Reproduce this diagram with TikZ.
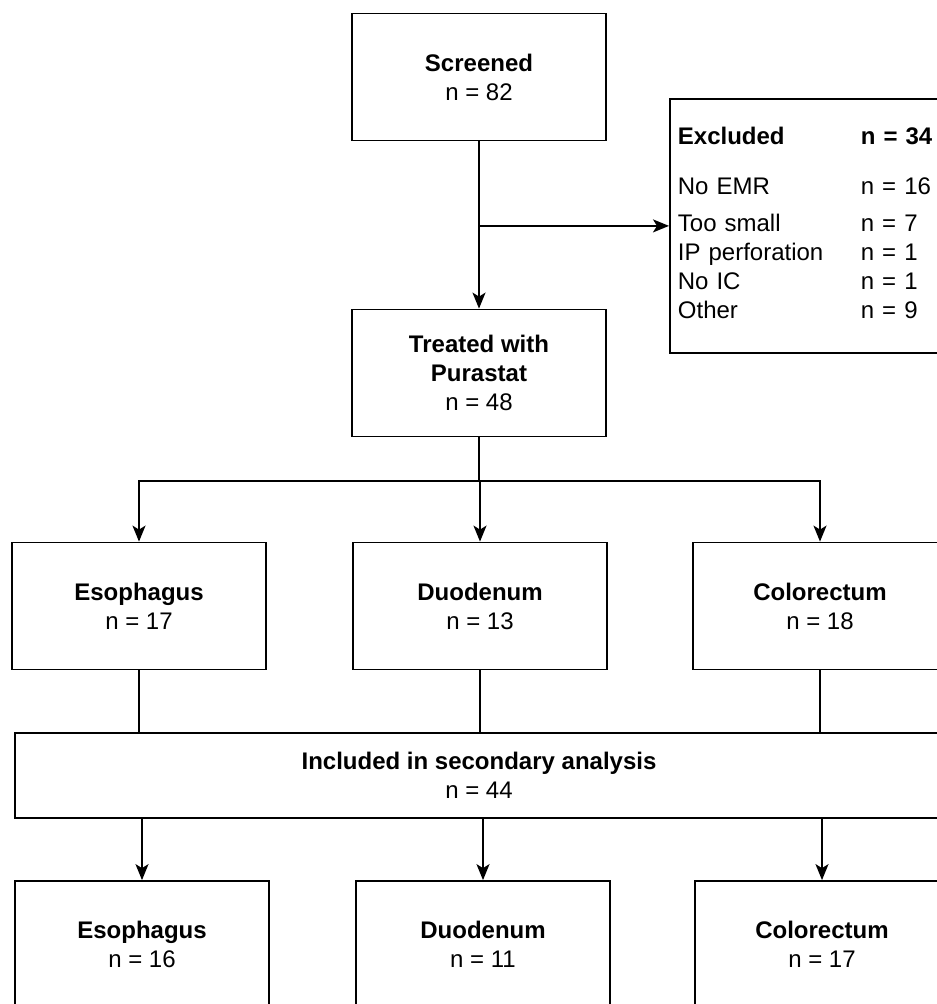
\documentclass[tikz,border=0pt]{standalone}
\usepackage{fontspec}
\setmainfont{Liberation Sans}
\usetikzlibrary{arrows.meta}

\begin{document}
\begin{tikzpicture}[x=1pt,y=-1pt,
		box/.style={draw,line width=1.8pt,minimum width=254pt,minimum height=127pt,inner sep=0pt,align=center,font=\fontsize{24}{29}\selectfont},
		line/.style={line width=1.8pt},
		arrow/.style={line width=1.8pt,-{Stealth[length=16pt,width=13pt,inset=4pt]}}
	]
	\useasboundingbox (0,0) rectangle (937,1004);

	% top part
	\node[box](screened) at (479,77) {\textbf{Screened}\\n = 82};
	\node[box](treated) at (479,373) {\textbf{Treated with}\\\textbf{Purastat}\\n = 48};
	\node[draw,line width=1.8pt,anchor=north west,minimum height=254pt,text width=300pt,inner xsep=8pt,inner ysep=0pt,align=left,font=\fontsize{24}{29}\selectfont](excluded) at (669,98)
	{
		\begin{tabular}{@{}p{183pt}@{}l@{}}
			\textbf{Excluded} & \textbf{n = 34} \\[21pt]
			No EMR & n = 16 \\[8pt]
			Too small & n = 7 \\
			IP perforation & n = 1 \\
			No IC & n = 1 \\
			Other & n = 9 \\
		\end{tabular}
	};

	% first row
	\node[box](esoph) at (139,606) {\textbf{Esophagus}\\n = 17};
	\node[box](duod) at (480,606) {\textbf{Duodenum}\\n = 13};
	\node[box](colo) at (820,606) {\textbf{Colorectum}\\n = 18};

	\node[box,minimum width=928pt,minimum height=85pt](included) at (479,775.5) {\textbf{Included in secondary analysis}\\n = 44};

	% second row
	\node[box](esophsec) at (142,944.5) {\textbf{Esophagus}\\n = 16};
	\node[box](duodsec) at (483,944.5) {\textbf{Duodenum}\\n = 11};
	\node[box](colosec) at (822,944.5) {\textbf{Colorectum}\\n = 17};

	\coordinate(split) at (479,481);

	\draw[arrow] (screened.south) -- (treated.north);
	\draw[arrow] (screened.south |- excluded.west) -- (excluded.west);
	\draw[line] (treated.south) -- (split);
	\draw[arrow] (split) -| (esoph.north);
	\draw[arrow] (split) -- (split -| duod.north) -- (duod.north);
	\draw[arrow] (split) -| (colo.north);

	\draw[line] (esoph.south) -- (esoph.south |- included.north);
	\draw[line] (duod.south) -- (duod.south |- included.north);
	\draw[line] (colo.south) -- (colo.south |- included.north);

	\draw[arrow] (included.south -| esophsec.north) -- (esophsec.north);
	\draw[arrow] (included.south -| duodsec.north) -- (duodsec.north);
	\draw[arrow] (included.south -| colosec.north) -- (colosec.north);
\end{tikzpicture}
\end{document}
